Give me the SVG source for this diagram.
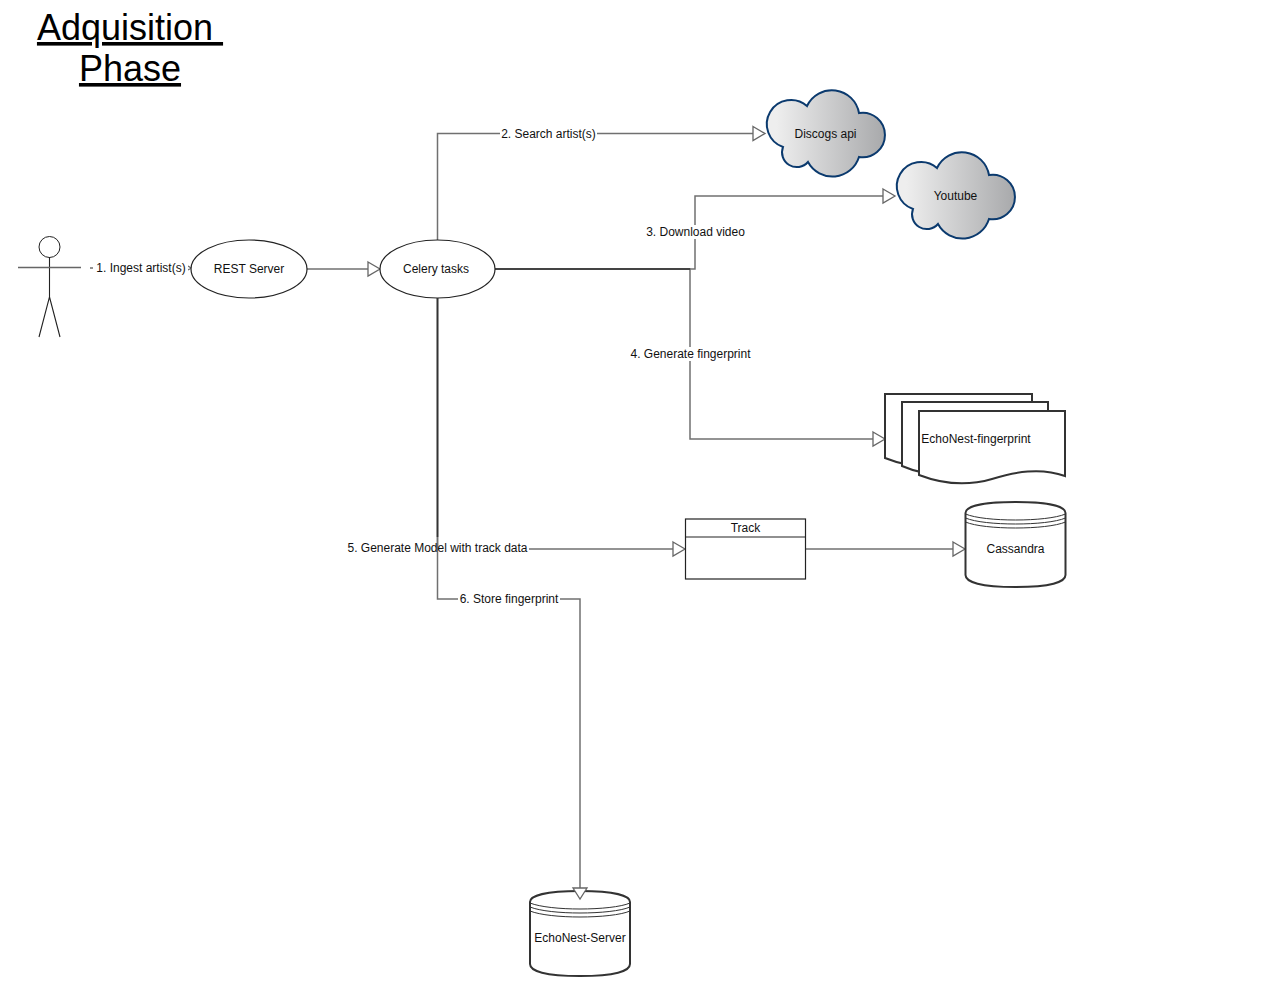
<svg xmlns="http://www.w3.org/2000/svg" width="1262" height="995" viewBox="0 0 1262 995">
<style>
text{font-family:"Liberation Sans",Arial,sans-serif;font-size:12px;fill:#111;text-anchor:middle}
.title{font-size:36px;text-decoration:underline;fill:#000;white-space:pre}
.c{fill:none;stroke:#707070;stroke-width:1.5}
.l{fill:#fff}
.s{fill:#fff;stroke:#222;stroke-width:1.2}
.d{fill:#fff;stroke:#333;stroke-width:2}
.t{fill:none;stroke:#333;stroke-width:1}
.cloud{fill:url(#g);stroke:#0b3a6e;stroke-width:2}
.a{fill:#fff;stroke:#666;stroke-width:1.3}
</style>
<defs>
<linearGradient id="g" x1="0" y1="0" x2="1" y2="0"><stop offset="0.08" stop-color="#eeeeee"/><stop offset="1" stop-color="#a8a9ab"/></linearGradient>
<path id="cl" class="cloud" d="M807 106A27.500 27.500 0 0 1 859 113A22.300 22.300 0 1 1 859 157A27.800 27.800 0 0 1 808 162A14.800 14.800 0 0 1 783 147A24.200 24.200 0 1 1 807 106Z"/>
</defs>
<g id="title"><text class="title" x="130" y="40" xml:space="preserve">Adquisition </text><text class="title" x="130" y="81">Phase</text></g>
<g id="connectors">
<path class="c" d="M90 268H93M188 266L191 268L188 270" stroke-width="1"/>
<path class="c" d="M306 269H368"/>
<path class="c" d="M437.500 240V133.500H753" stroke="#888"/>
<path class="c" d="M495 269H695V196H883"/>
<path class="c" d="M495 269H690V439H873"/>
<path class="c" d="M437.500 298V549H673"/>
<path class="c" d="M437.500 298V599H580V888"/>
<path class="c" d="M806 549H953"/>
<path d="M495 269H690" fill="none" stroke="#333" stroke-width="1.6"/>
<path class="a" d="M368 262L380 269L368 276Z"/>
<path class="a" d="M753 126.500L765 133.500L753 140.500Z"/>
<path class="a" d="M883 189L895 196L883 203Z"/>
<path class="a" d="M873 432L885 439L873 446Z"/>
<path class="a" d="M673 542L685 549L673 556Z"/>
<path class="a" d="M953 542L965 549L953 556Z"/>
</g>
<g id="actor"><circle cx="49.500" cy="247" r="10.500" fill="#fff" stroke="#222"/><path d="M49.500 257V297L39 337M49.500 297L60 337" fill="none" stroke="#222" stroke-width="1.1"/><path d="M18 267.500H81" stroke="#666" stroke-width="1.4"/></g>
<g id="rest"><ellipse class="s" cx="249" cy="269" rx="58" ry="29"/><text x="249" y="273">REST Server</text></g>
<g id="celery"><ellipse class="s" cx="437.500" cy="269" rx="57.500" ry="29"/><text x="436" y="273">Celery tasks</text></g>
<g id="discogs"><use href="#cl"/><text x="825.500" y="138">Discogs api</text></g>
<g id="youtube"><use href="#cl" transform="translate(130 62)"/><text x="955.500" y="200">Youtube</text></g>
<g id="fingerprint">
<path class="d" d="M885 394H1032V455C1005 447 985 455 960 462C935 469 910 468 885 458Z"/>
<path class="d" d="M902 402H1048V463C1020 455 1000 463 977 470C950 477 925 476 902 466Z"/>
<path class="d" d="M919 411H1065V476C1040 467 1015 472 992 479C968 486 945 485 919 475Z"/>
<text x="976" y="443">EchoNest-fingerprint</text></g>
<g id="track"><rect class="s" x="685.500" y="519" width="120" height="60"/><path d="M685.500 537H805.500" stroke="#222" stroke-width="1.2"/><text x="745.500" y="532">Track</text></g>
<g id="cassandra"><path class="d" d="M965.500 513C965.500 507 980 502 1015.500 502S1065.500 507 1065.500 513V575C1065.500 582 1050 587 1015.500 587S965.500 582 965.500 575Z"/><path class="t" d="M965.500 514C975 518 995 520 1015.500 520S1056 518 1065.500 514M965.500 518C975 522 995 524 1015.500 524S1056 522 1065.500 518M965.500 522C975 526 995 528 1015.500 528S1056 526 1065.500 522"/><text x="1015.500" y="553">Cassandra</text></g>
<g id="echonest"><path class="d" d="M530 902C530 896 545 891 580 891S630 896 630 902V964C630 971 615 976 580 976S530 971 530 964Z"/><path class="t" d="M530 903C540 907 560 909 580 909S621 907 630 903M530 907C540 911 560 913 580 913S621 911 630 907M530 911C540 915 560 917 580 917S621 915 630 911"/><text x="580" y="942">EchoNest-Server</text></g>
<path class="a" d="M573 888H587L580 899Z"/>
<g id="labels">
<rect class="l" x="93" y="261" width="95" height="14"/><text x="141" y="272">1. Ingest artist(s)</text>
<rect class="l" x="500" y="126" width="97" height="14"/><text x="548.500" y="138">2. Search artist(s)</text>
<rect class="l" x="645" y="225" width="101" height="14"/><text x="695.500" y="236">3. Download video</text>
<rect class="l" x="629" y="347" width="123" height="14"/><text x="690.500" y="358">4. Generate fingerprint</text>
<rect class="l" x="439" y="541" width="90" height="14"/><text x="437.500" y="552">5. Generate Model with track data</text>
<rect class="l" x="458" y="592" width="102" height="14"/><text x="509" y="603">6. Store fingerprint</text>
</g>
<path d="M437.500 298V537" fill="none" stroke="#333" stroke-width="1.6"/>
</svg>
